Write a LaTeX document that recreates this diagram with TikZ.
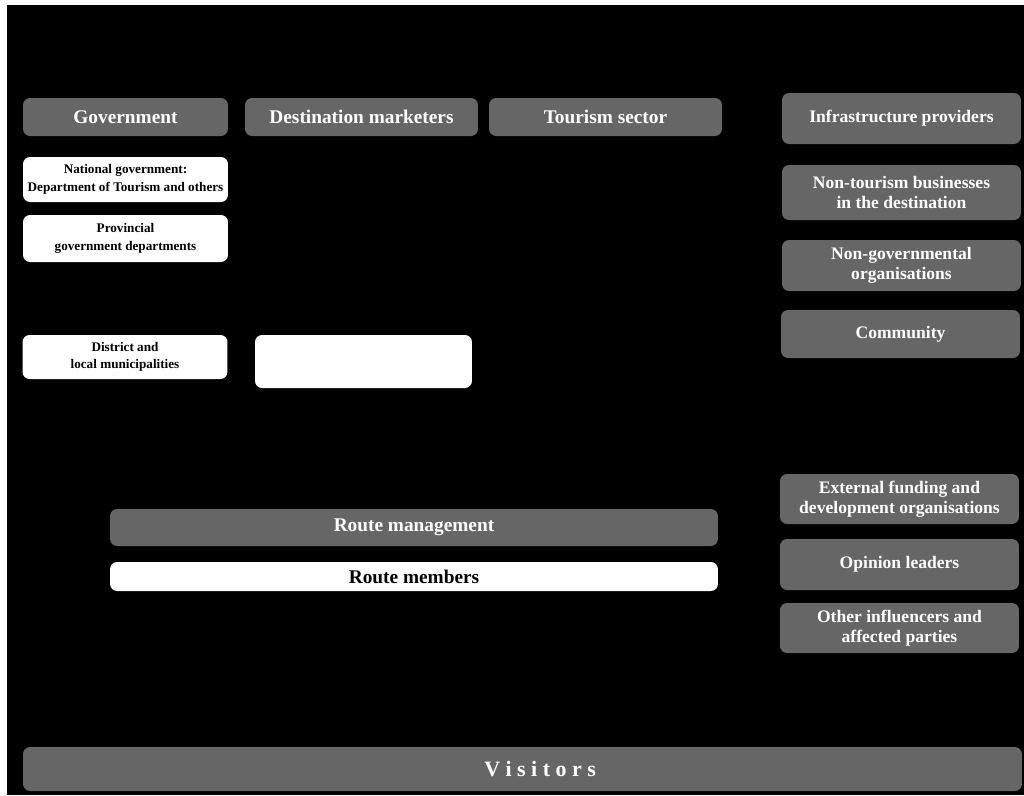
\documentclass[tikz,border=0pt]{standalone}
\usepackage{fontspec}
\setmainfont{Liberation Serif}
\usepackage{tikz}
\usetikzlibrary{positioning}
\usepackage{xcolor}
\definecolor{boxgray}{RGB}{102,102,102}

\begin{document}
\begin{tikzpicture}[x=0.02cm,y=-0.02cm,
    graybox/.style={rounded corners=4pt,fill=boxgray,text=white,inner sep=1pt,align=center,font=\bfseries},
    whitebox/.style={rounded corners=4pt,fill=white,text=black,inner sep=1pt,align=center,font=\bfseries},
    head/.style={graybox,font=\fontsize{11}{13}\selectfont\bfseries,minimum height=0.76cm},
    side/.style={graybox,font=\fontsize{10}{11.3}\selectfont\bfseries,minimum width=4.78cm},
    small/.style={whitebox,font=\fontsize{7.5}{10}\selectfont\bfseries,minimum width=4.1cm}]
    % Page and black background
    \fill[white] (0,0) rectangle (1024,795);
    \fill[black] (7,5) rectangle (1024,795);
    \useasboundingbox (0,0) rectangle (1024,795);

    % Top row
    \node[head,minimum width=4.1cm] (gov) at (125.5,117) {Government};
    \node[head,minimum width=4.66cm] (dest) at (361.5,117) {Destination marketers};
    \node[head,minimum width=4.66cm] (tour) at (605.5,117) {Tourism sector};

    % Government levels
    \node[small,minimum height=0.9cm] (natgov) at (125.5,179.5) {National government:\\Department of Tourism and others};
    \node[small,minimum height=0.94cm] (prov) at (125.5,238.5) {Provincial\\government departments};
    \node[small,minimum height=0.88cm] (district) at (125,357) {District and\\local municipalities};
    \node[whitebox,minimum width=4.34cm,minimum height=1.06cm] (blank) at (363.5,361.5) {};

    % Right column
    \node[side,minimum height=1.02cm] (infra) at (901.5,118.5) {Infrastructure providers};
    \node[side,minimum height=1.1cm] (nontour) at (901.5,192.5) {Non-tourism businesses\\in the destination};
    \node[side,minimum height=1.02cm] (ngo) at (901.5,265.5) {Non-governmental\\organisations};
    \node[side,minimum height=0.96cm] (comm) at (900.5,334) {Community};
    \node[side,minimum height=1cm] (extfund) at (899.5,499) {External funding and\\development organisations};
    \node[side,minimum height=1.02cm] (opinion) at (899.5,564.5) {Opinion leaders};
    \node[side,minimum height=1cm] (other) at (899.5,628) {Other influencers and\\affected parties};

    % Route
    \node[head,minimum width=12.16cm,minimum height=0.74cm] (routemgmt) at (414,527.5) {Route management};
    \node[whitebox,font=\fontsize{11}{13}\selectfont\bfseries,minimum width=12.16cm,minimum height=0.58cm] (routemem) at (414,576.5) {Route members};

    % Visitors
    \node[head,minimum width=19.98cm,minimum height=0.88cm,font=\fontsize{12.5}{14}\selectfont\bfseries] (visitors) at (522.5,769) {\hspace*{20pt}V i s i t o r s};
\end{tikzpicture}
\end{document}
